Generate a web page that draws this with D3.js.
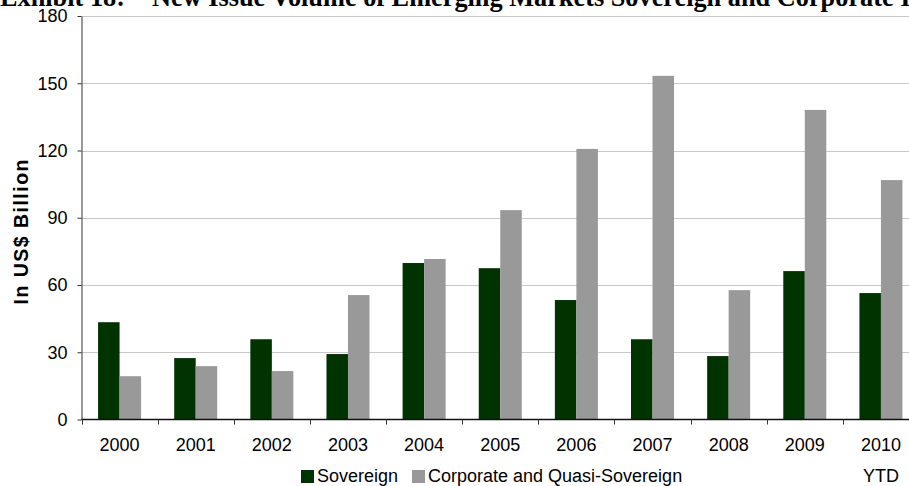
<!DOCTYPE html>
<html>
<head>
<meta charset="utf-8">
<script src="https://cdn.jsdelivr.net/npm/d3@7"></script>
<style>
  html, body { margin: 0; padding: 0; background: #fff; }
  svg { display: block; }
  .tick text { font-family: "Liberation Sans", Arial, sans-serif; font-size: 18px; fill: #000; }
</style>
</head>
<body>
<svg id="chart" width="909" height="486"></svg>
<script>
const categories = ["2000", "2001", "2002", "2003", "2004", "2005", "2006", "2007", "2008", "2009", "2010 YTD"];
const sovereign = [43.4, 27.4, 35.8, 29.2, 69.8, 67.5, 53.3, 35.8, 28.3, 66.2, 56.4];
const corporate = [19.3, 23.8, 21.6, 55.5, 71.6, 93.4, 120.7, 153.3, 57.7, 138.1, 106.8];
const seriesNames = ["Sovereign", "Corporate and Quasi-Sovereign"];
const seriesColors = ["#003300", "#999999"];
const yTicks = [0, 30, 60, 90, 120, 150, 180];

const width = 909;
const height = 486;
const plot = { left: 81.5, top: 16, right: 919, bottom: 419.5 };

const svg = d3.select("#chart");

const x0 = d3.scaleBand().domain(categories).range([plot.left, plot.right]).padding(0);
const x1 = d3.scaleBand().domain(seriesNames).range([0, x0.bandwidth()]).paddingInner(0).paddingOuter(0.77);
const y = d3.scaleLinear().domain([0, 180]).range([plot.bottom, plot.top]);

// title, cut off at the top like the source image
const title = svg.append("g")
  .attr("font-family", "'Liberation Serif', 'Times New Roman', serif")
  .attr("font-weight", "bold")
  .attr("font-size", 26.3)
  .attr("fill", "#000");
title.append("text").attr("x", 0).attr("y", 5.5).text("Exhibit 18:");
title.append("text").attr("x", 152).attr("y", 5.5)
  .text("New Issue Volume of Emerging Markets Sovereign and Corporate Issuance");

// gridlines
svg.append("g")
  .selectAll("line")
  .data(yTicks.filter((d) => d > 0))
  .join("line")
  .attr("x1", plot.left)
  .attr("x2", width)
  .attr("y1", (d) => Math.round(y(d)) + 0.5)
  .attr("y2", (d) => Math.round(y(d)) + 0.5)
  .attr("stroke", "#c8c8c8")
  .attr("stroke-width", 1);

// bars
const rows = categories.map((c, i) => ({ category: c, values: [sovereign[i], corporate[i]] }));
svg.append("g")
  .selectAll("g")
  .data(rows)
  .join("g")
  .attr("transform", (d) => `translate(${x0(d.category)},0)`)
  .selectAll("rect")
  .data((d) => d.values.map((v, k) => ({ name: seriesNames[k], value: v, color: seriesColors[k] })))
  .join("rect")
  .attr("x", (d) => x1(d.name))
  .attr("width", x1.bandwidth())
  .attr("y", (d) => y(d.value))
  .attr("height", (d) => y(0) - y(d.value))
  .attr("fill", (d) => d.color);

// y axis
const yAxis = svg.append("g")
  .attr("transform", `translate(${plot.left},0)`)
  .call(d3.axisLeft(y).tickValues(yTicks).tickSize(4).tickSizeOuter(0).tickPadding(10));
yAxis.select(".domain").attr("stroke", "#333");
yAxis.selectAll(".tick line").attr("stroke", "#333");
yAxis.selectAll(".tick text").attr("font-family", null).attr("font-size", null);

// x axis line and boundary ticks
const xAxis = svg.append("g");
xAxis.append("line")
  .attr("x1", plot.left).attr("x2", width)
  .attr("y1", plot.bottom).attr("y2", plot.bottom)
  .attr("stroke", "#111").attr("stroke-width", 1.3);
const boundaries = categories.map((c) => x0(c)).concat([x0(categories[categories.length - 1]) + x0.step()]);
xAxis.selectAll(".bt")
  .data(boundaries)
  .join("line")
  .attr("class", "bt")
  .attr("x1", (d) => Math.round(d) + 0.5)
  .attr("x2", (d) => Math.round(d) + 0.5)
  .attr("y1", plot.bottom)
  .attr("y2", plot.bottom + 5)
  .attr("stroke", "#333");

// x labels
const xLabels = svg.append("g")
  .attr("font-family", "'Liberation Sans', Arial, sans-serif")
  .attr("font-size", 18)
  .attr("text-anchor", "middle")
  .selectAll("text")
  .data(categories)
  .join("text")
  .attr("x", (d) => x0(d) + x0.bandwidth() / 2)
  .attr("y", 451);
xLabels.selectAll("tspan")
  .data((d) => d.split(" "))
  .join("tspan")
  .attr("x", function () { return d3.select(this.parentNode).attr("x"); })
  .attr("dy", (d, i) => (i === 0 ? 0 : 31))
  .text((d) => d);

// y axis title
svg.append("text")
  .attr("transform", "translate(27.5,232) rotate(-90)")
  .attr("text-anchor", "middle")
  .attr("font-family", "'Liberation Sans', Arial, sans-serif")
  .attr("font-weight", "bold")
  .attr("font-size", 19.5)
  .attr("textLength", 145)
  .attr("lengthAdjust", "spacing")
  .text("In US$ Billion");

// legend
const legendX = [301, 412];
const legend = svg.append("g")
  .selectAll("g")
  .data(seriesNames)
  .join("g")
  .attr("transform", (d, i) => `translate(${legendX[i]},470)`);
legend.append("rect")
  .attr("width", 13)
  .attr("height", 13)
  .attr("fill", (d, i) => seriesColors[i]);
legend.append("text")
  .attr("x", 16)
  .attr("y", 12)
  .attr("font-family", "'Liberation Sans', Arial, sans-serif")
  .attr("font-size", 18)
  .text((d) => d);
</script>
</body>
</html>
